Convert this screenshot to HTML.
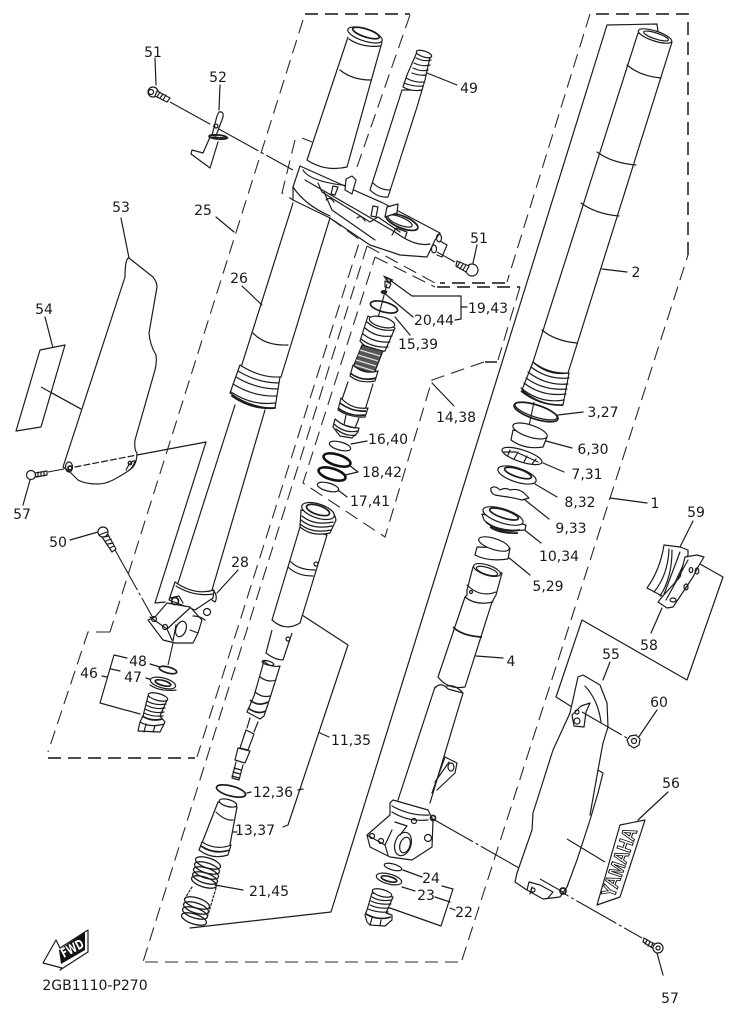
<!DOCTYPE html>
<html><head><meta charset="utf-8"><style>
html,body{margin:0;padding:0;background:#fff}
svg{display:block}
text{font-family:"DejaVu Sans","Liberation Sans",sans-serif;font-size:14px;fill:#1a1a1a;text-anchor:middle}
.l{fill:none;stroke:#1c1c1c;stroke-width:1.2;stroke-linejoin:round;stroke-linecap:round}
.p{fill:#fff;stroke:#1c1c1c;stroke-width:1.2;stroke-linejoin:round}
.d{fill:none;stroke:#2a2a2a;stroke-width:1.1;stroke-dasharray:14 7}
.h{fill:none;stroke:#333;stroke-width:1.7;stroke-dasharray:13 7}
.c{fill:none;stroke:#1c1c1c;stroke-width:1.1;stroke-dasharray:46 3 3 3}
.t{fill:none;stroke:#111;stroke-width:2.6}
.m{fill:none;stroke:#1c1c1c;stroke-width:1.7}
</style></head><body>
<svg width="736" height="1016" viewBox="0 0 736 1016" xmlns="http://www.w3.org/2000/svg">
<!-- dashed group outlines -->
<path class="d" d="M303 20L110 632"/>
<path class="h" d="M305 14H410"/>
<path class="d" d="M410 15L357 167M302 138L312 142M295 140L282 193L293 200"/>
<path class="d" d="M110 632H88L48 752"/>
<path class="h" d="M48 758H195" stroke-width="1.2"/>
<path class="d" d="M330 218L360 240L197 757"/>
<path class="d" d="M367 246L143 962"/>
<path class="h" d="M145 962H462" style="stroke:#888"/>
<path class="d" d="M462 960L688 255"/>
<path class="h" d="M688 255V14H590"/>
<path class="d" d="M590 14L507 282"/>
<path class="h" d="M505 283H440" stroke-width="1.2"/>
<path class="d" d="M367 246L435 283"/>
<path class="d" d="M375 257L435 287"/>
<path class="h" d="M437 287H520" stroke-width="1.2"/>
<path class="d" d="M520 287L498 360"/>
<path class="h" d="M497 362H485" stroke-width="1.2"/>
<path class="d" d="M484 362L432 380L385 537L303 483L375 257"/>
<!-- solid group brackets -->
<path class="l" d="M658 32L657 24L607 25L331 912L190 928"/>
<path class="l" d="M302 615L348 645L288 825L283 827M320 733L329 737M298 790L303 789M232 832L237 832"/>
<path class="l" d="M137 455L206 442L155 603L165 602"/>
<path class="l" d="M582 620L687 680L723 577L700 564M582 620L556 697L572 707"/>
<path class="l" d="M127 658L114 655L100 703L140 714M120 671L111 669M102 676L107 677"/>
<path class="l" d="M442 886L453 889L441 926L390 908M435 897L450 902M450 908L455 910"/>
<path class="l" d="M390 280L412 296H461V319L455 320M461 307H467"/>
<!-- leaders -->
<path class="l" d="M155 58L156 85M220 85L219 110M427 73L457 85M216 217L234 232M242 286L262 305M121 218L129 258M45 317L53 348M477 245L473 263
M602 269L627 272M383 292L413 317M395 317L410 335M351 444L367 441M349 465L358 472L345 475M338 490L347 497M432 383L454 406M558 415L583 412M546 441L572 448M543 463L564 472M535 484L557 497M525 500L549 519M522 528L541 543M508 557L530 575M476 656L503 658M610 498L647 503
M70 540L98 532M238 570L217 593M150 664L160 667M146 678L152 680M30 480L23 505M662 608L651 633M693 521L680 547M610 662L603 680M657 710L638 738M668 792L638 820M403 870L422 877M402 887L415 891M657 953L663 975M247 793L251 792M215 885L243 890"/>
<path class="c" d="M170 102L293 170"/>
<path class="c" d="M437 252L455 262"/>
<path class="c" d="M41 387L81 409"/>
<path class="c" d="M48 472L64 469"/>
<path class="c" d="M115 550L153 618"/>
<path class="c" d="M433 819L642 938"/>
<path class="c" d="M173 643L168 665"/>
<!-- left fork upper tube -->
<path class="p" d="M348 37L307 160Q325 172 347 167L382 42"/>
<path class="l" d="M340 70Q352 80 371 80"/>
<ellipse class="p" cx="365" cy="35" rx="18" ry="6" transform="rotate(18 365 35)"/>
<ellipse class="m" cx="366" cy="33" rx="14" ry="4" transform="rotate(18 366 33)"/>
<path class="l" d="M349 39Q362 48 381 46"/>
<!-- stem -->
<path class="p" d="M402 90L370 190Q378 198 388 197L417 107L422 90Z"/>
<path class="p" d="M407 75L403 87Q412 92 422 90L425 80L430 57L417 52Z"/>
<path class="l" d="M416 58Q424 62 431 60M414 63Q422 67 430 65M413 68Q421 72 428 70M412 73Q420 76 426 75M406 78Q415 83 424 82M404 83Q414 87 423 86"/>
<ellipse class="p" cx="424" cy="54" rx="8" ry="3" transform="rotate(18 424 54)"/>
<!-- triple clamp -->
<path class="p" d="M300 166L347 187L383 203L440 233L435 240L427 257L400 255L370 245L330 218L293 200L293 187Z"/>
<path class="l" d="M303 170Q310 182 350 186M293 187Q305 205 330 216M305 180L395 232Q415 247 430 244M318 183L322 192L370 222L378 217L400 232M324 192L332 210L375 240"/>
<ellipse class="m" cx="402" cy="222" rx="17" ry="6" transform="rotate(22 402 222)"/>
<ellipse class="l" cx="400" cy="221" rx="13" ry="4" transform="rotate(22 400 221)"/>
<path class="p" d="M346 179L352 176L356 180L352 194L345 190Z"/>
<path class="l" d="M333 186L331 194L335 195L338 187ZM373 206L371 216L376 217L378 207Z"/>
<path class="p" d="M387 207L398 204L397 213L385 217Z"/>
<path class="l" d="M373 183Q380 190 390 190M326 200Q330 196 334 202M357 218Q361 214 365 221M392 235L396 228L407 232L405 238"/>
<ellipse class="l" cx="439" cy="238" rx="2.5" ry="4"/>
<ellipse class="l" cx="434" cy="249" rx="2.5" ry="4"/>
<path class="l" d="M440 241L447 245L442 257L437 255"/>
<!-- left fork lower -->
<path class="l" d="M293 203L238 377M330 218L281 377M253 333Q265 346 288 345"/>
<path class="p" d="M240 365L230 393Q250 408 275 408L280 377Q260 378 240 365Z"/>
<path class="l" d="M238 371Q258 383 279 383M236 377Q256 389 278 389M233 384Q254 397 277 396M231 392Q252 406 275 403"/>
<path class="l" d="M232 396Q252 410 275 408" style="stroke-width:1.8"/>
<path class="l" d="M235 405L178 583M265 410L212 590"/>
<path class="p" d="M175 582L169 600L195 610L213 598L214 590Q195 596 175 582Z"/>
<path class="l" d="M176 586Q194 597 213 594"/>
<path class="p" d="M155 617L167 603L190 607L202 620L198 633L193 643L175 643L163 640L148 620Z"/>
<path class="l" d="M150 617L167 629L172 640M167 629L190 608M173 641L176 625M190 630L198 633"/>
<ellipse class="l" cx="181" cy="629" rx="5" ry="8" transform="rotate(20 181 629)"/>
<ellipse class="l" cx="154" cy="619" rx="2.5" ry="2.5"/><ellipse class="l" cx="165" cy="627" rx="2.5" ry="2.5"/>
<circle class="m" cx="175" cy="601" r="3.5"/><circle class="p" cx="207" cy="612" r="3.5"/>
<path class="l" d="M170 598L179 596L183 603M214 591Q218 597 215 602L212 600M193 616Q200 616 205 620"/>
<!-- 46 group -->
<ellipse class="m" cx="168" cy="670" rx="9" ry="3" transform="rotate(15 168 670)"/>
<ellipse class="p" cx="163" cy="683" rx="13" ry="5" transform="rotate(15 163 683)"/>
<ellipse class="m" cx="163" cy="683" rx="8" ry="2.5" transform="rotate(15 163 683)"/>
<path class="l" d="M150 685Q160 692 176 690"/>
<path class="p" d="M148 696L143 716L140 722L138 731L160 732L165 722L160 716L167 700Z"/>
<ellipse class="p" cx="158" cy="697" rx="10" ry="3.5" transform="rotate(15 158 697)"/>
<path class="l" d="M147 701Q155 706 166 704M146 705Q155 710 165 708M145 709Q154 714 164 712M144 713Q152 717 163 716"/>
<path class="m" d="M142 716Q152 722 162 719"/>
<path class="l" d="M140 722Q150 728 164 724M146 724L144 732M155 726L153 732"/>
<!-- bolt 50 -->
<path class="p" d="M100 534L106 531L116 549L112 552Z"/>
<path class="l" d="M104 537L109 536M106 541L111 539M108 544L113 543M110 548L114 546"/>
<circle class="p" cx="103" cy="532" r="5"/><path class="l" d="M99 535L107 532"/>
<!-- left guard -->
<path class="p" d="M129 258L153 277Q157 282 157 287L149 333Q150 345 156 355Q157 362 155 370L135 440Q134 450 137 453Q137 462 133 467Q128 472 113 480Q105 484 98 484Q85 484 78 480L70 472L63 467L125 277Q125 268 126 263Q127 258 129 258Z"/>
<path class="p" d="M40 350L65 345L41 427L16 431Z"/>
<path class="c" d="M41 387L81 409"/>
<ellipse class="l" cx="69" cy="467" rx="3.5" ry="5"/><circle class="m" cx="70" cy="468" r="2"/>
<path class="l" d="M126 470Q131 460 135 461Q133 468 128 471"/>
<circle class="l" cx="130" cy="463" r="1.8"/>
<path class="l" style="stroke-dasharray:6 3" d="M75 467L137 455"/>
<!-- bolt 57 left -->
<circle class="p" cx="31" cy="475" r="4.5"/><path class="p" d="M35 473L47 471L47 475L36 477Z"/>
<path class="l" d="M38 473V477M41 472V476M44 472V476"/>
<!-- bolt 51 left -->
<circle class="p" cx="153" cy="92" r="5"/><path class="p" d="M157 91L170 98L167 102L155 96Z"/>
<path class="l" d="M160 92L157 97M163 94L160 98M166 95L163 100"/>
<circle class="l" cx="151" cy="92" r="2.5"/>
<!-- bracket 52 -->
<path class="l" d="M228 138L210 137L203 153L192 150L191 154L210 168L218 142"/>
<path class="l" d="M219 112Q224 111 223 117L216 136L212 135L217 116Z"/>
<circle class="l" cx="216" cy="126" r="2"/>
<ellipse class="m" cx="218" cy="137" rx="9" ry="2" transform="rotate(5 218 137)"/>
<!-- bolt 51 right -->
<circle class="p" cx="472" cy="270" r="6"/><path class="p" d="M457 261L469 266L466 272L456 266Z"/>
<path class="l" d="M460 262L457 267M463 264L460 269M466 265L463 270"/>
<!-- 19,43 etc -->
<path class="m" d="M385 277L392 280L389 283Z"/><path class="p" d="M385 281L391 284L389 288L385 287Z"/>
<ellipse class="m" cx="384" cy="292" rx="2.5" ry="1.2"/>
<ellipse class="m" cx="384" cy="307" rx="14" ry="5" transform="rotate(15 384 307)"/>
<path class="c" d="M387 284L378 318"/>
<!-- damper -->
<path class="p" d="M368 316L360 341Q370 353 385 351L395 328Z"/>
<ellipse class="p" cx="382" cy="322" rx="13" ry="5" transform="rotate(15 382 322)"/>
<path class="l" d="M367 322Q378 332 394 330M365 328Q376 338 392 336M363 334Q374 343 390 342M361 339Q372 348 388 347"/>
<path d="M362 345L353 367L374 374L383 351Z" fill="#555" stroke="#111"/>
<path d="M360 350L380 356M358 355L378 361M356 360L376 366M355 365L374 371" stroke="#ddd" stroke-width="1.2"/>
<path class="p" d="M353 365L350 376Q360 384 375 381L378 371Q364 375 353 365Z"/>
<path class="m" d="M350 373Q362 382 376 378"/>
<path class="l" d="M348 382L340 405M373 384L365 410"/>
<path class="p" d="M341 398L338 410Q350 418 365 417L368 408Q352 410 341 398Z"/>
<path class="m" d="M340 403Q352 412 366 411M338 408Q350 417 365 415"/>
<path class="p" d="M346 415L344 425L355 428L359 418"/>
<path class="p" d="M335 419L333 427L340 436L352 438L358 432L359 428Q345 428 335 419Z"/>
<path class="l" d="M334 424Q345 434 358 431M336 429Q346 437 356 435"/>
<ellipse class="l" cx="340" cy="446" rx="11" ry="4" transform="rotate(15 340 446)"/>
<ellipse class="t" cx="337" cy="460" rx="14" ry="5.5" transform="rotate(17 337 460)"/>
<ellipse class="t" cx="332" cy="474" rx="14" ry="5.5" transform="rotate(17 332 474)"/>
<ellipse class="l" cx="328" cy="487" rx="11" ry="4" transform="rotate(15 328 487)"/>
<!-- 11,35 tube -->
<path class="p" d="M300 527L272 620Q285 632 300 623L327 535Z"/>
<path class="p" d="M301 510L300 527Q312 537 330 533L336 520L335 516Z"/>
<ellipse class="p" cx="318" cy="511" rx="17" ry="7" transform="rotate(18 318 511)"/>
<ellipse class="m" cx="318" cy="510" rx="12" ry="4.5" transform="rotate(18 318 510)"/>
<path class="l" d="M302 516Q314 526 333 522M301 520Q313 530 332 526M300 524Q312 534 331 530"/>
<path class="l" d="M290 561Q298 570 315 570M288 567Q297 576 313 576"/>
<circle class="l" cx="316" cy="564" r="2"/>
<path class="p" d="M272 630L266 653Q275 660 283 660L292 633"/>
<circle class="l" cx="288" cy="639" r="2"/>
<path class="p" d="M264 661L254 696L247 712L260 719L264 716L270 698L280 666Q270 668 264 661Z"/>
<ellipse class="l" cx="268" cy="663" rx="6" ry="2" transform="rotate(15 268 663)"/>
<path class="l" d="M260 677Q268 683 276 680M255 692Q262 698 270 696"/>
<path class="m" d="M250 700Q258 707 268 702M248 708Q257 715 266 711"/>
<path class="l" d="M250 718L247 728M258 722L254 732"/>
<path class="p" d="M246 730L240 748L248 750L254 734Z"/>
<path class="p" d="M238 748L235 760L245 763L250 751Z"/>
<path class="l" d="M236 762L232 778L239 780L243 765M234 768L241 770M233 772L240 774M232 776L239 778"/>
<!-- 12,36 / 13,37 -->
<ellipse class="m" cx="231" cy="791" rx="15" ry="5" transform="rotate(15 231 791)"/>
<path class="p" d="M218 802L202 843Q215 855 229 850L237 807Z"/>
<ellipse class="p" cx="228" cy="803" rx="9" ry="3.5" transform="rotate(15 228 803)"/>
<path class="l" d="M216 812Q225 821 233 820"/>
<path class="p" d="M202 842L199 850Q212 860 228 855L231 845Q216 851 202 842Z"/>
<path class="m" d="M201 846Q214 855 230 850"/>
<!-- spring 21,45 -->
<g class="m" style="fill:none;stroke:#1c1c1c;stroke-width:1.3">
<ellipse cx="208" cy="863" rx="13" ry="5" transform="rotate(18 208 863)"/>
<ellipse cx="207" cy="868" rx="13" ry="5" transform="rotate(18 207 868)"/>
<ellipse cx="206" cy="873" rx="13" ry="5" transform="rotate(18 206 873)"/>
<ellipse cx="205" cy="878" rx="13" ry="5" transform="rotate(18 205 878)"/>
<ellipse cx="204" cy="882" rx="13" ry="5" transform="rotate(18 204 882)"/>
<ellipse cx="197" cy="903" rx="13" ry="5" transform="rotate(18 197 903)"/>
<ellipse cx="196" cy="908" rx="13" ry="5" transform="rotate(18 196 908)"/>
<ellipse cx="195" cy="913" rx="13" ry="5" transform="rotate(18 195 913)"/>
<ellipse cx="194" cy="919" rx="13" ry="5" transform="rotate(18 194 919)"/>
</g>
<path class="l" style="stroke-dasharray:2 2" d="M192 887L184 900M216 888L208 915"/>
<!-- right fork -->
<path class="p" d="M638 33L533 362Q548 374 568 373L672 42Z"/>
<ellipse class="p" cx="655" cy="36" rx="17.5" ry="5" transform="rotate(18 655 36)"/>
<ellipse class="l" cx="656" cy="36" rx="13" ry="3" transform="rotate(18 656 36)"/>
<path class="l" d="M627 65Q640 76 661 78M597 152Q612 163 636 165M581 203Q596 214 619 216M542 330Q555 341 577 343"/>
<path class="p" d="M533 362L522 390Q540 406 563 405L569 373Q548 376 533 362Z"/>
<path class="l" d="M531 367Q548 380 569 378M528 372Q546 386 568 384M526 378Q544 391 567 389M524 383Q542 397 566 394M521 388Q540 404 564 400"/>
<path class="m" d="M521 391Q540 406 563 405"/>
<path class="c" d="M534 402L529 426"/>
<ellipse class="m" cx="536" cy="412" rx="23" ry="7" transform="rotate(18 536 412)"/>
<ellipse class="l" cx="536" cy="411" rx="22" ry="6" transform="rotate(18 536 411)"/>
<path class="p" d="M513 430L511 440Q525 450 543 447L547 437Z"/>
<ellipse class="p" cx="530" cy="431" rx="18" ry="6" transform="rotate(18 530 431)"/>
<ellipse class="p" cx="522" cy="456" rx="21" ry="6" transform="rotate(18 522 456)"/>
<path class="l" d="M504 452L516 452L538 462M510 450L508 455M518 452L514 459M527 456L524 462M536 459L532 464"/>
<ellipse class="p" cx="517" cy="475" rx="20" ry="7" transform="rotate(18 517 475)"/>
<ellipse class="m" cx="518" cy="473" rx="14" ry="4" transform="rotate(18 518 473)"/>
<path class="l" d="M491 488Q495 485 500 490Q505 487 510 490Q518 488 524 493L529 498L522 500Q514 498 508 497Q500 496 495 495Q490 493 491 488Z"/>
<path class="p" d="M482 514L484 520Q496 532 525 530L526 525Z"/>
<ellipse class="p" cx="503" cy="516" rx="21" ry="7" transform="rotate(18 503 516)"/>
<ellipse class="m" cx="504" cy="514" rx="15" ry="4" transform="rotate(18 504 514)"/>
<path class="m" d="M486 522Q500 534 520 530M490 527Q500 534 518 533"/>
<path class="p" d="M477 547L475 555Q488 562 508 559L510 548Z"/>
<ellipse class="p" cx="494" cy="544" rx="16" ry="5.5" transform="rotate(18 494 544)"/>
<!-- lower tube 4 -->
<path class="p" d="M473 567L467 590L467 595L465 597L438 677Q448 690 465 687L492 602L496 595L502 573Z"/>
<ellipse class="p" cx="487" cy="570" rx="14" ry="5" transform="rotate(18 487 570)"/>
<ellipse class="l" cx="487" cy="571" rx="11" ry="3.5" transform="rotate(18 487 571)"/>
<path class="l" d="M467 585Q480 598 496 592M465 597Q476 606 493 602"/>
<circle class="l" cx="471" cy="592" r="1.5"/>
<path class="m" d="M453 627Q462 636 482 637"/>
<path class="l" d="M435 687L398 800M463 693L430 803"/>
<path class="l" d="M435 688Q441 681 448 689Q455 691 463 693Q455 684 447 686"/>
<path class="l" d="M432 793L445 757L457 763L455 773L437 790"/>
<ellipse class="l" cx="451" cy="767" rx="3" ry="4" />
<path class="l" d="M435 782L449 762"/>
<path class="p" d="M390 803L393 800L428 810L433 820L432 847L412 860L390 857L370 847L367 835L390 815Z"/>
<path class="l" d="M392 806Q410 816 429 815M392 812Q408 822 428 820M395 822L407 826L400 835M367 835L385 845L392 830M385 845L388 855"/>
<ellipse class="l" cx="403" cy="844" rx="8" ry="12" transform="rotate(18 403 844)"/>
<ellipse class="l" cx="405" cy="845" rx="5" ry="8" transform="rotate(18 405 845)"/>
<circle class="l" cx="372" cy="836" r="2.5"/><circle class="l" cx="381" cy="841" r="2.5"/><circle class="l" cx="414" cy="821" r="2.5"/><circle class="l" cx="428" cy="838" r="3.5"/>
<circle class="m" cx="433" cy="818" r="2.5"/>
<!-- 22 group -->
<ellipse class="l" cx="393" cy="867" rx="9" ry="3" transform="rotate(15 393 867)"/>
<ellipse class="p" cx="389" cy="879" rx="13" ry="5" transform="rotate(15 389 879)"/>
<ellipse class="m" cx="389" cy="879" rx="8" ry="2.5" transform="rotate(15 389 879)"/>
<path class="p" d="M372 893L367 910L365 915L367 922L370 925L385 926L392 920L392 915L386 913L393 897Z"/>
<ellipse class="p" cx="382" cy="893" rx="10" ry="3.5" transform="rotate(15 382 893)"/>
<path class="l" d="M372 897Q380 902 392 900M371 901Q379 905 391 904M370 905Q378 909 390 908M368 909Q378 913 388 912"/>
<path class="m" d="M366 914Q378 921 391 917"/>
<path class="l" d="M372 918L370 925M381 920L380 926"/>
<!-- right guard 55 -->
<path class="p" d="M578 677L583 675L600 685L607 703L608 727L603 743L598 770L603 773L598 793L590 820L577 860L567 887L560 897L543 899L527 890L515 882L517 873L532 830L533 813L553 750L570 713Z"/>
<path class="l" d="M585 686Q598 700 601 722M572 715L581 706L590 703L586 712L584 727L574 726L572 715M598 770L590 815"/>
<circle class="l" cx="577" cy="712" r="2"/><circle class="l" cx="577" cy="721" r="3"/>
<path class="l" d="M527 890L529 882L540 885L553 892L548 898M532 887L530 894"/>
<circle class="l" cx="533" cy="890" r="2"/>
<circle class="m" cx="563" cy="891" r="3"/>
<path class="c" d="M433 819L642 938" style="stroke-dasharray:none;opacity:0"/>
<path class="c" d="M540 879L563 892"/>
<path class="c" d="M582 712L627 738"/>
<path class="c" d="M567 839L605 862"/>
<!-- nut 60 -->
<path class="p" d="M630 736L636 735L640 739L639 745L634 748L629 745L627 740Z"/>
<circle class="l" cx="634" cy="741" r="2.5"/>
<!-- decal -->
<path class="p" d="M620 825L645 820L620 897L597 905Z"/>
<text x="621" y="868" transform="rotate(-71 621 863)" textLength="72" lengthAdjust="spacingAndGlyphs" style="font-family:'Liberation Sans',sans-serif;font-weight:bold;font-size:20px;fill:#fff;stroke:#111;stroke-width:1">YAMAHA</text>
<!-- bolt 57 bottom -->
<path class="p" d="M644 938L656 945L654 949L643 942Z"/><path class="l" d="M647 940L645 944M650 942L648 946M653 943L651 947"/>
<circle class="p" cx="658" cy="948" r="5"/><circle class="l" cx="658" cy="948" r="2"/>
<!-- 58/59 -->
<path class="p" d="M664 545L680 547L688 550L688 555L670 593L666 598L647 588Q660 570 664 545Z"/>
<path class="l" d="M669 549Q668 575 654 592M672 550Q672 578 660 596M680 552L663 597"/>
<path class="p" d="M685 557L697 555L704 557L698 567L693 577L673 607L667 608L658 602L662 597L680 577Z"/>
<path class="l" d="M688 560L666 600"/>
<ellipse class="l" cx="691" cy="570" rx="1.8" ry="2.5"/><ellipse class="l" cx="697" cy="571" rx="1.8" ry="3"/><ellipse class="l" cx="686" cy="587" rx="2" ry="3"/><ellipse class="l" cx="673" cy="600" rx="3" ry="2"/>
<!-- FWD arrow -->
<path class="p" d="M88 930L88 952L60 970L62 968L43 963L56 940L60 948Z" stroke-width="1.6"/>
<path d="M85 932V950L61 964L59 950Z" fill="#111"/>
<text x="72" y="953" transform="rotate(-28 72 948)" textLength="24" lengthAdjust="spacingAndGlyphs" style="font-weight:bold;font-size:13px;fill:#fff">FWD</text>
<!-- labels -->
<text x="153" y="57">51</text><text x="218" y="82">52</text><text x="469" y="93">49</text>
<text x="203" y="215">25</text><text x="239" y="283">26</text><text x="121" y="212">53</text>
<text x="44" y="314">54</text><text x="479" y="243">51</text><text x="636" y="277">2</text>
<text x="488" y="313">19,43</text><text x="434" y="325">20,44</text><text x="418" y="349">15,39</text>
<text x="456" y="422">14,38</text><text x="388" y="444">16,40</text><text x="382" y="477">18,42</text>
<text x="370" y="506">17,41</text><text x="240" y="567">28</text><text x="603" y="417">3,27</text>
<text x="593" y="454">6,30</text><text x="587" y="479">7,31</text><text x="580" y="507">8,32</text>
<text x="571" y="533">9,33</text><text x="559" y="561">10,34</text><text x="548" y="591">5,29</text>
<text x="655" y="508">1</text><text x="696" y="517">59</text><text x="649" y="650">58</text>
<text x="611" y="659">55</text><text x="511" y="666">4</text><text x="659" y="707">60</text>
<text x="671" y="788">56</text><text x="431" y="883">24</text><text x="426" y="900">23</text>
<text x="464" y="917">22</text><text x="670" y="1003">57</text><text x="351" y="745">11,35</text>
<text x="273" y="797">12,36</text><text x="255" y="835">13,37</text><text x="269" y="896">21,45</text>
<text x="58" y="547">50</text><text x="138" y="666">48</text><text x="133" y="682">47</text>
<text x="89" y="678">46</text><text x="22" y="519">57</text>
<text x="95" y="990">2GB1110-P270</text>
</svg>
</body></html>
